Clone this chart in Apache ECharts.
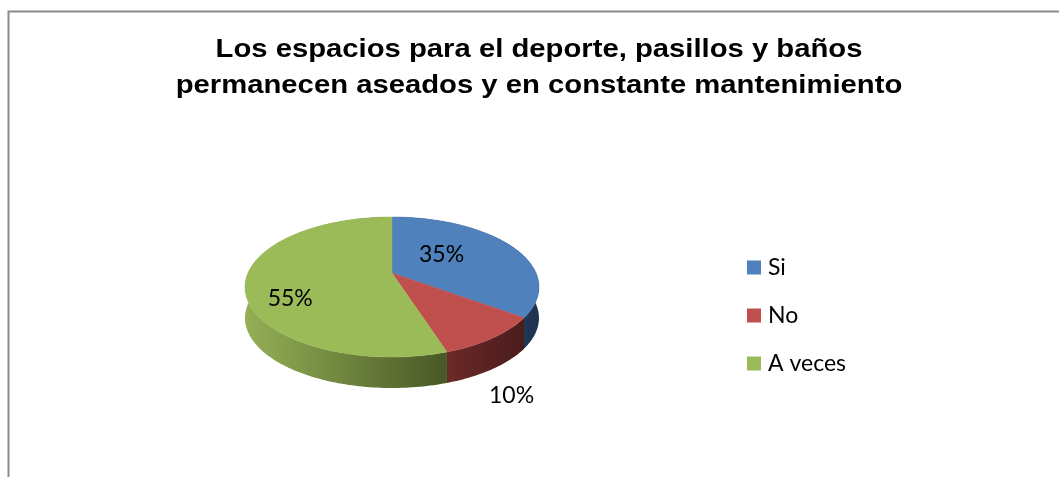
<!DOCTYPE html>
<html>
<head>
<meta charset="utf-8">
<script src="https://cdn.jsdelivr.net/npm/echarts@6/dist/echarts.min.js"></script>
<style>
html,body{margin:0;padding:0;background:#fff;}
#chart{width:1059px;height:477px;}
</style>
</head>
<body>
<div id="chart"></div>
<script>
// ---- data ----
const titleLines = ['Los espacios para el deporte, pasillos y baños', 'permanecen aseados y en constante mantenimiento'];
const categories = ['Si', 'No', 'A veces'];
const values = [35, 10, 55];
const labels = ['35%', '10%', '55%'];

// ---- styles / layout ----
const topColors = ['#4F81BD', '#C0504D', '#9BBB59'];
const sideColors = [['#2e4d74', '#1e3350'], ['#6a2a28', '#4a1c1c'], ['#94b055', '#485826']];
const geo = { cx: 392, cy: 273, rx: 144, ry: 67.2, persp: 0.2, depth: 31 };
const labelLayout = [ { r: 0.40, dy: -7 }, { r: 1.15, dy: 46 }, { r: 0.70, dy: 18 } ];

const total = values.reduce((a, b) => a + b, 0);
function proj(theta, r) {
  const u = r * Math.sin(theta), v = -r * Math.cos(theta);
  const w = 1 - geo.persp * v;
  return [geo.cx + geo.rx * u / w, geo.cy + geo.ry * v / w];
}
function arcPts(a0, a1, r, dy) {
  const n = Math.max(4, Math.ceil((a1 - a0) / 0.02));
  const pts = [];
  for (let k = 0; k <= n; k++) {
    const t = a0 + (a1 - a0) * k / n;
    const p = proj(t, r);
    pts.push([p[0], p[1] + dy]);
  }
  return pts;
}

const chart = echarts.init(document.getElementById('chart'), null, { renderer: 'canvas' });

const series = categories.map((name, i) => ({
  type: 'custom',
  name: name,
  coordinateSystem: 'none',
  itemStyle: { color: topColors[i] },
  data: [[values[i]]],
  renderItem: function (params, api) {
    let before = 0;
    for (let j = 0; j < i; j++) before += values[j];
    const a0 = before / total * Math.PI * 2;
    const a1 = (before + api.value(0)) / total * Math.PI * 2;
    const topArc = arcPts(a0, a1, 1, 0);
    const botArc = arcPts(a0, a1, 1, geo.depth).reverse();
    const sidePts = topArc.concat(botArc);
    const apex = proj(0, 0);
    const topPts = [apex].concat(topArc);
    const mid = (a0 + a1) / 2;
    const lp = proj(mid, labelLayout[i].r);
    return {
      type: 'group',
      children: [
        {
          type: 'polygon', z2: 0,
          shape: { points: sidePts },
          style: {
            fill: new echarts.graphic.LinearGradient(0, 0, 1, 0, [
              { offset: 0, color: sideColors[i][0] },
              { offset: 1, color: sideColors[i][1] }
            ]),
            stroke: null
          }
        },
        {
          type: 'polygon', z2: 10,
          shape: { points: topPts },
          style: { fill: topColors[i], stroke: topColors[i], lineWidth: 0.5 }
        },
        {
          type: 'text', z2: 20,
          x: lp[0], y: lp[1] + labelLayout[i].dy,
          style: {
            text: labels[i], fill: '#000', font: '23px Lato',
            align: 'center', verticalAlign: 'middle'
          }
        }
      ]
    };
  }
}));

chart.setOption({
  animation: false,
  color: topColors,
  legend: {
    orient: 'vertical',
    left: 747, top: 256, padding: 0,
    itemWidth: 14, itemHeight: 14, itemGap: 25,
    icon: 'rect',
    textStyle: { fontFamily: 'Lato', fontSize: 23, lineHeight: 22, color: '#000', padding: [0, 0, 0, 2] },
    data: categories
  },
  graphic: [
    {
      type: 'rect', z: 0,
      shape: { x: 8.5, y: 11.5, width: 1200, height: 600 },
      style: { fill: 'none', stroke: '#8c8c8c', lineWidth: 2 }
    },
    {
      type: 'text', z: 10,
      x: 539, y: 68, originX: 0, originY: 0, scaleX: 1.17,
      style: {
        text: titleLines.join('\n'),
        font: 'bold 25px "Liberation Sans", Arial',
        lineHeight: 36,
        fill: '#000', align: 'center', verticalAlign: 'middle'
      }
    }
  ],
  series: series
});
</script>
</body>
</html>
